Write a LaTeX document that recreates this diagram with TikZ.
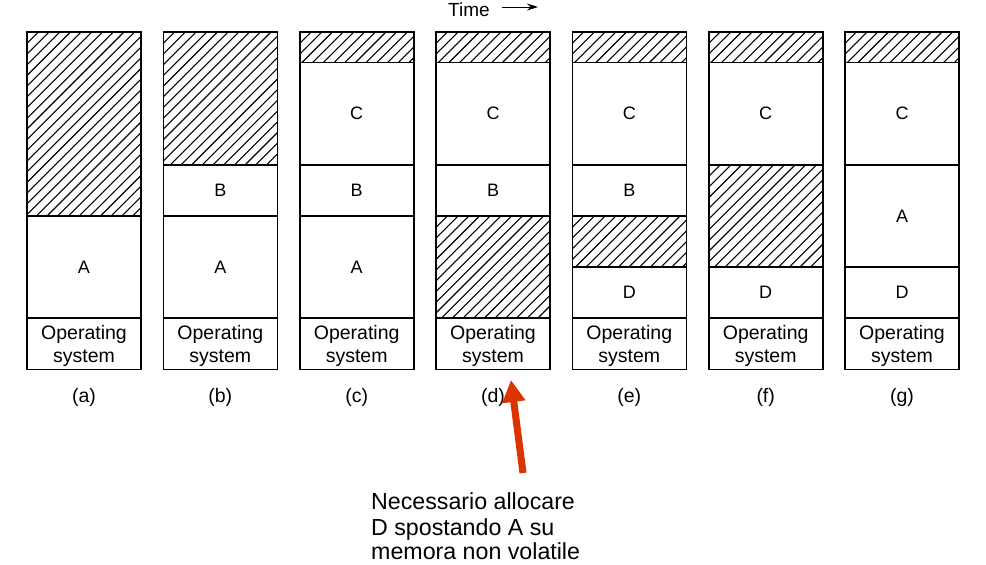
\documentclass[tikz,border=0pt]{standalone}
\usepackage{fontspec}
\setmainfont{Liberation Sans}
\usetikzlibrary{arrows.meta}
\definecolor{redarrow}{RGB}{221,51,0}
\tikzset{
  seg/.style={draw=black,line width=1.6pt},
  hatchline/.style={line width=1.1pt},
  blk/.style={font=\fontsize{18}{20}\selectfont,inner sep=0pt},
  ostext/.style={font=\fontsize{19.5}{23.5}\selectfont,align=center,inner sep=0pt},
  caplabel/.style={font=\fontsize{19.5}{22}\selectfont,inner sep=0pt},
  note/.style={font=\fontsize{23.2}{27}\selectfont,inner sep=0pt,anchor=base west},
}
% hatched region: #1 = left x, #2 = top y, #3 = bottom y
\newcommand{\hatchreg}[3]{%
  \begin{scope}
    \clip (#1,#2) rectangle ++(114,#3-#2);
    \foreach \c in {0,10.7,...,800} {
      \draw[hatchline] (#1+\c,#2-10) -- ++(-620,620);
    }
  \end{scope}
  \draw[seg] (#1,#2) rectangle ++(114,#3-#2);
}
% labelled block: #1 = left x, #2 = top y, #3 = bottom y, #4 = node name, #5 = text
\newcommand{\blockreg}[5]{%
  \draw[seg] (#1,#2) rectangle ++(114,#3-#2);
  \node[blk] (#4) at (#1+57,{(#2+#3)/2}) {#5};
}
\begin{document}
\begin{tikzpicture}[x=1pt,y=-1pt]
\useasboundingbox (0,0) rectangle (986,565);
\fill[white] (0,0) rectangle (986,565);

% Time label
\node[font=\fontsize{19}{22}\selectfont,inner sep=0pt,anchor=west] (time) at (448,10) {Time};
\coordinate (tA) at (502,7);
\coordinate (tB) at (538,7);
\draw[line width=0.9pt,-{Stealth[length=11pt,width=7pt]}] (tA) -- (tB);

% column positions
\def\xa{27}\def\xb{163.3}\def\xc{299.7}\def\xd{436}\def\xe{572.3}\def\xf{708.7}\def\xg{845}

% (a)
\hatchreg{\xa}{32}{216}
\blockreg{\xa}{216}{318}{aA}{A}
% (b)
\hatchreg{\xb}{32}{165}
\blockreg{\xb}{165}{216}{bB}{B}
\blockreg{\xb}{216}{318}{bA}{A}
% (c)
\hatchreg{\xc}{32}{62.5}
\blockreg{\xc}{62.5}{165}{cC}{C}
\blockreg{\xc}{165}{216}{cB}{B}
\blockreg{\xc}{216}{318}{cA}{A}
% (d)
\hatchreg{\xd}{32}{62.5}
\blockreg{\xd}{62.5}{165}{dC}{C}
\blockreg{\xd}{165}{216}{dB}{B}
\hatchreg{\xd}{216}{318}
% (e)
\hatchreg{\xe}{32}{62.5}
\blockreg{\xe}{62.5}{165}{eC}{C}
\blockreg{\xe}{165}{216}{eB}{B}
\hatchreg{\xe}{216}{267}
\blockreg{\xe}{267}{318}{eD}{D}
% (f)
\hatchreg{\xf}{32}{62.5}
\blockreg{\xf}{62.5}{165}{fC}{C}
\hatchreg{\xf}{165}{267}
\blockreg{\xf}{267}{318}{fD}{D}
% (g)
\hatchreg{\xg}{32}{62.5}
\blockreg{\xg}{62.5}{165}{gC}{C}
\blockreg{\xg}{165}{267}{gA}{A}
\blockreg{\xg}{267}{318}{gD}{D}

% Operating system blocks and captions
\foreach \x/\n/\l in {\xa/a/(a),\xb/b/(b),\xc/c/(c),\xd/d/(d),\xe/e/(e),\xf/f/(f),\xg/g/(g)} {
  \draw[seg] (\x,318) rectangle ++(114,51.5);
  \node[ostext] (os\n) at (\x+57,346) {Operating\\system};
  \node[caplabel] (cap\n) at (\x+57,397) {\l};
}

% red arrow
\coordinate (rTail) at (523,473);
\coordinate (rTip) at (511,380);
\draw[redarrow,line width=7pt,-{Triangle[length=22pt,width=22pt]}] (rTail) -- (rTip);

% note
\node[note] (n1) at (371,509) {Necessario allocare};
\node[note] (n2) at (371,535) {D spostando A su};
\node[note] (n3) at (371,559.5) {memora non volatile};
\end{tikzpicture}
\end{document}
